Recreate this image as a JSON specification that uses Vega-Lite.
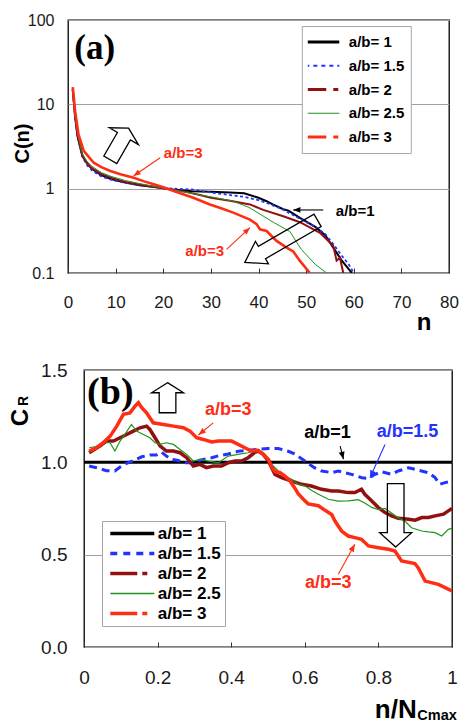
{
"$schema":"https://vega.github.io/schema/vega-lite/v6.json",
"padding":{"left":8,"top":11,"right":0,"bottom":0},
"background":"white",
"config":{"font":"Liberation Sans","view":{"stroke":"#000000","strokeWidth":1.3},
"axis":{"labelFont":"Liberation Sans","titleFont":"Liberation Sans","labelColor":"#1a1a1a","titleColor":"#000000","tickColor":"#333333"}},
"datasets":{
"a":[
{"ab":"a/b= 1","n":1,"c":15},{"ab":"a/b= 1","n":1.5,"c":7},{"ab":"a/b= 1","n":2,"c":4.2},{"ab":"a/b= 1","n":3,"c":2.45},{"ab":"a/b= 1","n":4,"c":2.0},{"ab":"a/b= 1","n":5,"c":1.72},{"ab":"a/b= 1","n":7,"c":1.45},{"ab":"a/b= 1","n":9,"c":1.3},{"ab":"a/b= 1","n":12,"c":1.18},{"ab":"a/b= 1","n":15,"c":1.1},{"ab":"a/b= 1","n":19,"c":1.03},{"ab":"a/b= 1","n":22,"c":0.98},{"ab":"a/b= 1","n":26,"c":0.93},{"ab":"a/b= 1","n":30,"c":0.92},{"ab":"a/b= 1","n":34,"c":0.9},{"ab":"a/b= 1","n":37,"c":0.88},{"ab":"a/b= 1","n":40,"c":0.78},{"ab":"a/b= 1","n":41.7,"c":0.71},{"ab":"a/b= 1","n":43,"c":0.65},{"ab":"a/b= 1","n":45.2,"c":0.57},{"ab":"a/b= 1","n":46.3,"c":0.55},{"ab":"a/b= 1","n":48.7,"c":0.45},{"ab":"a/b= 1","n":52,"c":0.35},{"ab":"a/b= 1","n":54,"c":0.28},{"ab":"a/b= 1","n":55.7,"c":0.2},{"ab":"a/b= 1","n":57.5,"c":0.14},{"ab":"a/b= 1","n":59.6,"c":0.1},
{"ab":"a/b= 1.5","n":1,"c":15},{"ab":"a/b= 1.5","n":1.5,"c":7},{"ab":"a/b= 1.5","n":2,"c":4.2},{"ab":"a/b= 1.5","n":3,"c":2.4},{"ab":"a/b= 1.5","n":4,"c":1.9},{"ab":"a/b= 1.5","n":5,"c":1.65},{"ab":"a/b= 1.5","n":7,"c":1.4},{"ab":"a/b= 1.5","n":9,"c":1.28},{"ab":"a/b= 1.5","n":12,"c":1.17},{"ab":"a/b= 1.5","n":15,"c":1.1},{"ab":"a/b= 1.5","n":19,"c":1.04},{"ab":"a/b= 1.5","n":22,"c":1.0},{"ab":"a/b= 1.5","n":26,"c":0.98},{"ab":"a/b= 1.5","n":30,"c":0.9},{"ab":"a/b= 1.5","n":34,"c":0.84},{"ab":"a/b= 1.5","n":37,"c":0.8},{"ab":"a/b= 1.5","n":40,"c":0.73},{"ab":"a/b= 1.5","n":42,"c":0.67},{"ab":"a/b= 1.5","n":45,"c":0.57},{"ab":"a/b= 1.5","n":48.7,"c":0.44},{"ab":"a/b= 1.5","n":52,"c":0.35},{"ab":"a/b= 1.5","n":54,"c":0.29},{"ab":"a/b= 1.5","n":55.7,"c":0.22},{"ab":"a/b= 1.5","n":57.5,"c":0.16},{"ab":"a/b= 1.5","n":59,"c":0.125},{"ab":"a/b= 1.5","n":60,"c":0.1},
{"ab":"a/b= 2","n":1,"c":15},{"ab":"a/b= 2","n":1.5,"c":7.5},{"ab":"a/b= 2","n":2,"c":4.4},{"ab":"a/b= 2","n":3,"c":2.5},{"ab":"a/b= 2","n":4,"c":2.0},{"ab":"a/b= 2","n":5,"c":1.75},{"ab":"a/b= 2","n":7,"c":1.5},{"ab":"a/b= 2","n":9,"c":1.35},{"ab":"a/b= 2","n":12,"c":1.2},{"ab":"a/b= 2","n":15,"c":1.12},{"ab":"a/b= 2","n":19,"c":1.03},{"ab":"a/b= 2","n":22,"c":0.97},{"ab":"a/b= 2","n":25,"c":0.91},{"ab":"a/b= 2","n":27.7,"c":0.84},{"ab":"a/b= 2","n":30,"c":0.78},{"ab":"a/b= 2","n":34,"c":0.72},{"ab":"a/b= 2","n":38.2,"c":0.65},{"ab":"a/b= 2","n":41,"c":0.56},{"ab":"a/b= 2","n":45.2,"c":0.47},{"ab":"a/b= 2","n":48.7,"c":0.4},{"ab":"a/b= 2","n":52.9,"c":0.3},{"ab":"a/b= 2","n":55.7,"c":0.21},{"ab":"a/b= 2","n":56.4,"c":0.14},{"ab":"a/b= 2","n":57.1,"c":0.152},{"ab":"a/b= 2","n":57.8,"c":0.1},
{"ab":"a/b= 2.5","n":1,"c":15},{"ab":"a/b= 2.5","n":1.5,"c":7.5},{"ab":"a/b= 2.5","n":2,"c":4.5},{"ab":"a/b= 2.5","n":3,"c":2.6},{"ab":"a/b= 2.5","n":4,"c":2.1},{"ab":"a/b= 2.5","n":5,"c":1.85},{"ab":"a/b= 2.5","n":7,"c":1.55},{"ab":"a/b= 2.5","n":9,"c":1.4},{"ab":"a/b= 2.5","n":12,"c":1.25},{"ab":"a/b= 2.5","n":15,"c":1.15},{"ab":"a/b= 2.5","n":19,"c":1.04},{"ab":"a/b= 2.5","n":22,"c":0.97},{"ab":"a/b= 2.5","n":25,"c":0.9},{"ab":"a/b= 2.5","n":27.7,"c":0.84},{"ab":"a/b= 2.5","n":30,"c":0.8},{"ab":"a/b= 2.5","n":34.7,"c":0.71},{"ab":"a/b= 2.5","n":38,"c":0.6},{"ab":"a/b= 2.5","n":40.3,"c":0.5},{"ab":"a/b= 2.5","n":43.1,"c":0.4},{"ab":"a/b= 2.5","n":46.6,"c":0.31},{"ab":"a/b= 2.5","n":49,"c":0.19},{"ab":"a/b= 2.5","n":51.9,"c":0.127},{"ab":"a/b= 2.5","n":54.3,"c":0.1},
{"ab":"a/b= 3","n":1,"c":16},{"ab":"a/b= 3","n":1.5,"c":8.3},{"ab":"a/b= 3","n":2.2,"c":4.4},{"ab":"a/b= 3","n":3.3,"c":2.8},{"ab":"a/b= 3","n":5.4,"c":2.03},{"ab":"a/b= 3","n":7,"c":1.8},{"ab":"a/b= 3","n":8.9,"c":1.62},{"ab":"a/b= 3","n":11,"c":1.48},{"ab":"a/b= 3","n":13.8,"c":1.35},{"ab":"a/b= 3","n":16,"c":1.22},{"ab":"a/b= 3","n":18,"c":1.13},{"ab":"a/b= 3","n":20,"c":1.04},{"ab":"a/b= 3","n":22.2,"c":0.94},{"ab":"a/b= 3","n":26.3,"c":0.78},{"ab":"a/b= 3","n":29.8,"c":0.65},{"ab":"a/b= 3","n":32,"c":0.59},{"ab":"a/b= 3","n":34.7,"c":0.52},{"ab":"a/b= 3","n":38.2,"c":0.43},{"ab":"a/b= 3","n":39.6,"c":0.38},{"ab":"a/b= 3","n":40.3,"c":0.33},{"ab":"a/b= 3","n":41.7,"c":0.315},{"ab":"a/b= 3","n":43.8,"c":0.24},{"ab":"a/b= 3","n":45.9,"c":0.2},{"ab":"a/b= 3","n":47.3,"c":0.18},{"ab":"a/b= 3","n":48.7,"c":0.139},{"ab":"a/b= 3","n":50.8,"c":0.1}
],
"aa":[
{"id":"A1","ab":"a/b= 3","n":19.35,"c":2.33,"n2":13.75,"c2":1.415},
{"id":"A2","ab":"a/b= 3","n":33.3,"c":0.191,"n2":38.2,"c2":0.345},
{"id":"A3","ab":"a/b= 1","n":53.6,"c":0.559,"n2":47.3,"c2":0.559}
],
"at":[
{"t":"a/b=3","ab":"a/b= 3","n":24.2,"c":2.67},
{"t":"a/b=3","ab":"a/b= 3","n":28.7,"c":0.182},
{"t":"a/b=1","ab":"a/b= 1","n":60.3,"c":0.537}
],
"ak":[{"id":"U","n":10.8,"c":3.39},{"id":"D","n":44.77,"c":0.237}],
"al":[{"t":"(a)","n":5.62,"c":46.7}],
"b":[
{"ab":"a/b= 1","x":0,"cr":1},{"ab":"a/b= 1","x":1,"cr":1},
{"ab":"a/b= 1.5","x":0.014,"cr":0.98},{"ab":"a/b= 1.5","x":0.034,"cr":0.971},{"ab":"a/b= 1.5","x":0.061,"cr":0.955},{"ab":"a/b= 1.5","x":0.084,"cr":0.953},{"ab":"a/b= 1.5","x":0.098,"cr":0.975},{"ab":"a/b= 1.5","x":0.116,"cr":0.995},{"ab":"a/b= 1.5","x":0.134,"cr":1.01},{"ab":"a/b= 1.5","x":0.157,"cr":1.03},{"ab":"a/b= 1.5","x":0.179,"cr":1.04},{"ab":"a/b= 1.5","x":0.197,"cr":1.04},{"ab":"a/b= 1.5","x":0.211,"cr":1.055},{"ab":"a/b= 1.5","x":0.224,"cr":1.034},{"ab":"a/b= 1.5","x":0.238,"cr":1.016},{"ab":"a/b= 1.5","x":0.256,"cr":1.01},{"ab":"a/b= 1.5","x":0.27,"cr":0.998},{"ab":"a/b= 1.5","x":0.288,"cr":0.998},{"ab":"a/b= 1.5","x":0.306,"cr":1.007},{"ab":"a/b= 1.5","x":0.324,"cr":1.016},{"ab":"a/b= 1.5","x":0.347,"cr":1.025},{"ab":"a/b= 1.5","x":0.365,"cr":1.035},{"ab":"a/b= 1.5","x":0.392,"cr":1.045},{"ab":"a/b= 1.5","x":0.419,"cr":1.06},{"ab":"a/b= 1.5","x":0.446,"cr":1.065},{"ab":"a/b= 1.5","x":0.474,"cr":1.07},{"ab":"a/b= 1.5","x":0.501,"cr":1.075},{"ab":"a/b= 1.5","x":0.528,"cr":1.075},{"ab":"a/b= 1.5","x":0.555,"cr":1.06},{"ab":"a/b= 1.5","x":0.573,"cr":1.045},{"ab":"a/b= 1.5","x":0.591,"cr":1.02},{"ab":"a/b= 1.5","x":0.609,"cr":0.995},{"ab":"a/b= 1.5","x":0.627,"cr":0.97},{"ab":"a/b= 1.5","x":0.646,"cr":0.953},{"ab":"a/b= 1.5","x":0.673,"cr":0.944},{"ab":"a/b= 1.5","x":0.691,"cr":0.953},{"ab":"a/b= 1.5","x":0.709,"cr":0.944},{"ab":"a/b= 1.5","x":0.727,"cr":0.935},{"ab":"a/b= 1.5","x":0.755,"cr":0.917},{"ab":"a/b= 1.5","x":0.773,"cr":0.913},{"ab":"a/b= 1.5","x":0.791,"cr":0.935},{"ab":"a/b= 1.5","x":0.809,"cr":0.949},{"ab":"a/b= 1.5","x":0.836,"cr":0.935},{"ab":"a/b= 1.5","x":0.854,"cr":0.953},{"ab":"a/b= 1.5","x":0.882,"cr":0.971},{"ab":"a/b= 1.5","x":0.909,"cr":0.957},{"ab":"a/b= 1.5","x":0.936,"cr":0.944},{"ab":"a/b= 1.5","x":0.954,"cr":0.917},{"ab":"a/b= 1.5","x":0.967,"cr":0.881},{"ab":"a/b= 1.5","x":0.981,"cr":0.89},{"ab":"a/b= 1.5","x":1,"cr":0.899},
{"ab":"a/b= 2","x":0.014,"cr":1.052},{"ab":"a/b= 2","x":0.043,"cr":1.088},{"ab":"a/b= 2","x":0.061,"cr":1.115},{"ab":"a/b= 2","x":0.08,"cr":1.115},{"ab":"a/b= 2","x":0.098,"cr":1.133},{"ab":"a/b= 2","x":0.116,"cr":1.151},{"ab":"a/b= 2","x":0.134,"cr":1.169},{"ab":"a/b= 2","x":0.152,"cr":1.187},{"ab":"a/b= 2","x":0.17,"cr":1.196},{"ab":"a/b= 2","x":0.179,"cr":1.178},{"ab":"a/b= 2","x":0.193,"cr":1.133},{"ab":"a/b= 2","x":0.207,"cr":1.088},{"ab":"a/b= 2","x":0.224,"cr":1.061},{"ab":"a/b= 2","x":0.243,"cr":1.061},{"ab":"a/b= 2","x":0.261,"cr":1.052},{"ab":"a/b= 2","x":0.279,"cr":1.025},{"ab":"a/b= 2","x":0.297,"cr":0.98},{"ab":"a/b= 2","x":0.315,"cr":0.989},{"ab":"a/b= 2","x":0.333,"cr":0.971},{"ab":"a/b= 2","x":0.351,"cr":0.98},{"ab":"a/b= 2","x":0.374,"cr":0.98},{"ab":"a/b= 2","x":0.392,"cr":0.998},{"ab":"a/b= 2","x":0.41,"cr":1.007},{"ab":"a/b= 2","x":0.428,"cr":1.007},{"ab":"a/b= 2","x":0.446,"cr":1.025},{"ab":"a/b= 2","x":0.465,"cr":1.055},{"ab":"a/b= 2","x":0.474,"cr":1.06},{"ab":"a/b= 2","x":0.487,"cr":1.043},{"ab":"a/b= 2","x":0.501,"cr":1.007},{"ab":"a/b= 2","x":0.519,"cr":0.935},{"ab":"a/b= 2","x":0.537,"cr":0.917},{"ab":"a/b= 2","x":0.564,"cr":0.899},{"ab":"a/b= 2","x":0.591,"cr":0.881},{"ab":"a/b= 2","x":0.618,"cr":0.872},{"ab":"a/b= 2","x":0.646,"cr":0.854},{"ab":"a/b= 2","x":0.673,"cr":0.845},{"ab":"a/b= 2","x":0.691,"cr":0.845},{"ab":"a/b= 2","x":0.718,"cr":0.836},{"ab":"a/b= 2","x":0.736,"cr":0.836},{"ab":"a/b= 2","x":0.754,"cr":0.854},{"ab":"a/b= 2","x":0.763,"cr":0.827},{"ab":"a/b= 2","x":0.782,"cr":0.791},{"ab":"a/b= 2","x":0.8,"cr":0.755},{"ab":"a/b= 2","x":0.818,"cr":0.728},{"ab":"a/b= 2","x":0.836,"cr":0.71},{"ab":"a/b= 2","x":0.854,"cr":0.697},{"ab":"a/b= 2","x":0.882,"cr":0.692},{"ab":"a/b= 2","x":0.9,"cr":0.687},{"ab":"a/b= 2","x":0.918,"cr":0.701},{"ab":"a/b= 2","x":0.936,"cr":0.701},{"ab":"a/b= 2","x":0.954,"cr":0.71},{"ab":"a/b= 2","x":0.977,"cr":0.719},{"ab":"a/b= 2","x":0.99,"cr":0.737},{"ab":"a/b= 2","x":1,"cr":0.751},
{"ab":"a/b= 2.5","x":0.014,"cr":1.079},{"ab":"a/b= 2.5","x":0.039,"cr":1.088},{"ab":"a/b= 2.5","x":0.052,"cr":1.106},{"ab":"a/b= 2.5","x":0.071,"cr":1.106},{"ab":"a/b= 2.5","x":0.084,"cr":1.061},{"ab":"a/b= 2.5","x":0.098,"cr":1.115},{"ab":"a/b= 2.5","x":0.111,"cr":1.151},{"ab":"a/b= 2.5","x":0.129,"cr":1.205},{"ab":"a/b= 2.5","x":0.143,"cr":1.169},{"ab":"a/b= 2.5","x":0.161,"cr":1.151},{"ab":"a/b= 2.5","x":0.179,"cr":1.133},{"ab":"a/b= 2.5","x":0.193,"cr":1.106},{"ab":"a/b= 2.5","x":0.207,"cr":1.097},{"ab":"a/b= 2.5","x":0.224,"cr":1.106},{"ab":"a/b= 2.5","x":0.243,"cr":1.097},{"ab":"a/b= 2.5","x":0.261,"cr":1.07},{"ab":"a/b= 2.5","x":0.279,"cr":1.043},{"ab":"a/b= 2.5","x":0.297,"cr":1.007},{"ab":"a/b= 2.5","x":0.315,"cr":1.016},{"ab":"a/b= 2.5","x":0.338,"cr":1.007},{"ab":"a/b= 2.5","x":0.365,"cr":0.998},{"ab":"a/b= 2.5","x":0.392,"cr":1.034},{"ab":"a/b= 2.5","x":0.419,"cr":1.043},{"ab":"a/b= 2.5","x":0.446,"cr":1.052},{"ab":"a/b= 2.5","x":0.474,"cr":1.07},{"ab":"a/b= 2.5","x":0.492,"cr":1.043},{"ab":"a/b= 2.5","x":0.51,"cr":0.989},{"ab":"a/b= 2.5","x":0.528,"cr":0.953},{"ab":"a/b= 2.5","x":0.546,"cr":0.926},{"ab":"a/b= 2.5","x":0.564,"cr":0.908},{"ab":"a/b= 2.5","x":0.582,"cr":0.881},{"ab":"a/b= 2.5","x":0.601,"cr":0.872},{"ab":"a/b= 2.5","x":0.619,"cr":0.848},{"ab":"a/b= 2.5","x":0.637,"cr":0.827},{"ab":"a/b= 2.5","x":0.664,"cr":0.8},{"ab":"a/b= 2.5","x":0.691,"cr":0.79},{"ab":"a/b= 2.5","x":0.718,"cr":0.791},{"ab":"a/b= 2.5","x":0.745,"cr":0.798},{"ab":"a/b= 2.5","x":0.763,"cr":0.78},{"ab":"a/b= 2.5","x":0.782,"cr":0.756},{"ab":"a/b= 2.5","x":0.8,"cr":0.744},{"ab":"a/b= 2.5","x":0.818,"cr":0.75},{"ab":"a/b= 2.5","x":0.836,"cr":0.726},{"ab":"a/b= 2.5","x":0.854,"cr":0.699},{"ab":"a/b= 2.5","x":0.872,"cr":0.682},{"ab":"a/b= 2.5","x":0.89,"cr":0.646},{"ab":"a/b= 2.5","x":0.918,"cr":0.628},{"ab":"a/b= 2.5","x":0.936,"cr":0.623},{"ab":"a/b= 2.5","x":0.954,"cr":0.619},{"ab":"a/b= 2.5","x":0.972,"cr":0.601},{"ab":"a/b= 2.5","x":0.99,"cr":0.637},{"ab":"a/b= 2.5","x":1,"cr":0.642},
{"ab":"a/b= 3","x":0.014,"cr":1.061},{"ab":"a/b= 3","x":0.034,"cr":1.079},{"ab":"a/b= 3","x":0.052,"cr":1.106},{"ab":"a/b= 3","x":0.071,"cr":1.142},{"ab":"a/b= 3","x":0.089,"cr":1.196},{"ab":"a/b= 3","x":0.107,"cr":1.26},{"ab":"a/b= 3","x":0.125,"cr":1.268},{"ab":"a/b= 3","x":0.139,"cr":1.305},{"ab":"a/b= 3","x":0.148,"cr":1.323},{"ab":"a/b= 3","x":0.157,"cr":1.296},{"ab":"a/b= 3","x":0.17,"cr":1.268},{"ab":"a/b= 3","x":0.188,"cr":1.214},{"ab":"a/b= 3","x":0.216,"cr":1.205},{"ab":"a/b= 3","x":0.243,"cr":1.196},{"ab":"a/b= 3","x":0.27,"cr":1.187},{"ab":"a/b= 3","x":0.288,"cr":1.169},{"ab":"a/b= 3","x":0.306,"cr":1.133},{"ab":"a/b= 3","x":0.324,"cr":1.124},{"ab":"a/b= 3","x":0.347,"cr":1.11},{"ab":"a/b= 3","x":0.365,"cr":1.115},{"ab":"a/b= 3","x":0.401,"cr":1.115},{"ab":"a/b= 3","x":0.419,"cr":1.097},{"ab":"a/b= 3","x":0.437,"cr":1.079},{"ab":"a/b= 3","x":0.455,"cr":1.061},{"ab":"a/b= 3","x":0.473,"cr":1.065},{"ab":"a/b= 3","x":0.487,"cr":1.043},{"ab":"a/b= 3","x":0.501,"cr":1.016},{"ab":"a/b= 3","x":0.51,"cr":0.975},{"ab":"a/b= 3","x":0.519,"cr":0.95},{"ab":"a/b= 3","x":0.533,"cr":0.944},{"ab":"a/b= 3","x":0.546,"cr":0.926},{"ab":"a/b= 3","x":0.56,"cr":0.899},{"ab":"a/b= 3","x":0.573,"cr":0.86},{"ab":"a/b= 3","x":0.582,"cr":0.83},{"ab":"a/b= 3","x":0.596,"cr":0.8},{"ab":"a/b= 3","x":0.609,"cr":0.775},{"ab":"a/b= 3","x":0.637,"cr":0.765},{"ab":"a/b= 3","x":0.655,"cr":0.74},{"ab":"a/b= 3","x":0.673,"cr":0.718},{"ab":"a/b= 3","x":0.682,"cr":0.682},{"ab":"a/b= 3","x":0.7,"cr":0.628},{"ab":"a/b= 3","x":0.718,"cr":0.601},{"ab":"a/b= 3","x":0.736,"cr":0.592},{"ab":"a/b= 3","x":0.754,"cr":0.583},{"ab":"a/b= 3","x":0.773,"cr":0.547},{"ab":"a/b= 3","x":0.8,"cr":0.538},{"ab":"a/b= 3","x":0.827,"cr":0.529},{"ab":"a/b= 3","x":0.845,"cr":0.52},{"ab":"a/b= 3","x":0.863,"cr":0.466},{"ab":"a/b= 3","x":0.899,"cr":0.452},{"ab":"a/b= 3","x":0.908,"cr":0.429},{"ab":"a/b= 3","x":0.927,"cr":0.357},{"ab":"a/b= 3","x":0.963,"cr":0.339},{"ab":"a/b= 3","x":1,"cr":0.303}
],
"ba":[
{"id":"B1","ab":"a/b= 3","x":0.351,"cr":1.214,"x2":0.311,"cr2":1.148},
{"id":"B2","ab":"a/b= 1","x":0.696,"cr":1.088,"x2":0.705,"cr2":1.017},
{"id":"B3","ab":"a/b= 1.5","x":0.818,"cr":1.097,"x2":0.777,"cr2":0.917},
{"id":"B4","ab":"a/b= 3","x":0.691,"cr":0.394,"x2":0.736,"cr2":0.556}
],
"bt":[
{"t":"a/b=3","ab":"a/b= 3","x":0.392,"cr":1.282},
{"t":"a/b=1","ab":"a/b= 1","x":0.662,"cr":1.16},
{"t":"a/b=1.5","ab":"a/b= 1.5","x":0.879,"cr":1.165},
{"t":"a/b=3","ab":"a/b= 3","x":0.664,"cr":0.344}
],
"bk":[{"id":"U","x":0.227,"cr":1.35},{"id":"D","x":0.847,"cr":0.713}],
"bl":[{"t":"(b)","x":0.0715,"cr":1.378}],
"bx":[{"k":"R","t":"R","x":-0.1514,"cr":1.332},{"k":"C","t":"Cmax","x":0.9057,"cr":-0.395}]
},
"vconcat":[
{
"width":381,"height":253,
"layer":[
{"data":{"name":"a"},"transform":[{"filter":"datum.ab === 'a/b= 1'"}],"mark":{"type":"line","clip":true,"strokeWidth":2},
"encoding":{
"x":{"field":"n","type":"quantitative","scale":{"domain":[0,80],"nice":false,"zero":false},
"axis":{"values":[0,5,10,15,20,25,30,35,40,45,50,55,60,65,70,75,80],"labelExpr":"datum.value % 10 === 0 ? datum.label : ''","title":"n","titleX":355.6,"titleY":56.3,"titleAlign":"center","titleBaseline":"alphabetic","titleFontSize":24,"titleFontWeight":"bold","grid":false,"domain":false,"tickSize":-5,"labelPadding":26,"labelFontSize":17,"labelFlush":false,"labelOverlap":false}},
"y":{"field":"c","type":"quantitative","scale":{"type":"log","domain":[0.1,100],"nice":false},
"axis":{"values":[0.1,1,10,100],"format":"~g","grid":true,"gridColor":"#a0a0a0","gridWidth":1,"ticks":false,"domain":false,"labelPadding":14,"labelFontSize":16,"title":"C(n)","titleX":-39.7,"titleY":123,"titleAngle":270,"titleAlign":"center","titleBaseline":"alphabetic","titleFontSize":20,"titleFontWeight":"bold"}},
"color":{"field":"ab","type":"nominal","scale":{"domain":["a/b= 1","a/b= 1.5","a/b= 2","a/b= 2.5","a/b= 3"],"range":["#000000","#2233ff","#931010","#1e961e","#ff2d14"]},
"legend":{"title":null,"orient":"none","legendX":233.8,"legendY":6,"direction":"vertical","padding":6,"fillColor":"#ffffff","strokeColor":"#a6a6a6","symbolType":"stroke","symbolSize":1156,"clipHeight":20,"rowPadding":3.75,"symbolOffset":7,"labelOffset":19,"labelFont":"Liberation Sans","labelFontSize":15,"labelFontWeight":"bold","labelColor":"#000000","labelLimit":200,
"encode":{"symbols":{"update":{"strokeDash":{"signal":"(datum.value === 'a/b= 2' || datum.value === 'a/b= 3') ? [21,7,5,40] : (datum.value === 'a/b= 1.5' ? [4,4] : [1,0])"},"strokeWidth":{"signal":"datum.value === 'a/b= 2.5' ? 1.2 : (datum.value === 'a/b= 1.5' ? 2 : 3)"}}}}}}
}},
{"data":{"name":"a"},"transform":[{"filter":"datum.ab === 'a/b= 1.5'"}],"mark":{"type":"line","clip":true,"strokeWidth":1.8,"strokeDash":[3,2.5]},
"encoding":{"x":{"field":"n","type":"quantitative"},"y":{"field":"c","type":"quantitative"},"color":{"field":"ab","type":"nominal"}}},
{"data":{"name":"a"},"transform":[{"filter":"datum.ab === 'a/b= 2'"}],"mark":{"type":"line","clip":true,"strokeWidth":2},
"encoding":{"x":{"field":"n","type":"quantitative"},"y":{"field":"c","type":"quantitative"},"color":{"field":"ab","type":"nominal"}}},
{"data":{"name":"a"},"transform":[{"filter":"datum.ab === 'a/b= 2.5'"}],"mark":{"type":"line","clip":true,"strokeWidth":1},
"encoding":{"x":{"field":"n","type":"quantitative"},"y":{"field":"c","type":"quantitative"},"color":{"field":"ab","type":"nominal"}}},
{"data":{"name":"a"},"transform":[{"filter":"datum.ab === 'a/b= 3'"}],"mark":{"type":"line","clip":true,"strokeWidth":2.6},
"encoding":{"x":{"field":"n","type":"quantitative"},"y":{"field":"c","type":"quantitative"},"color":{"field":"ab","type":"nominal"}}},
{"data":{"name":"ak"},"transform":[{"filter":"datum.id === 'U'"}],"mark":{"type":"point","shape":"M0,-1L0.92,-0.49L0.41,-0.49L0.41,1L-0.41,1L-0.41,-0.49L-0.92,-0.49Z","size":1332,"angle":30,"filled":false,"stroke":"#000000","strokeWidth":1.3,"opacity":1},
"encoding":{"x":{"field":"n","type":"quantitative"},"y":{"field":"c","type":"quantitative"}}},
{"data":{"name":"ak"},"transform":[{"filter":"datum.id === 'D'"}],"mark":{"type":"point","shape":"M0,-1L0.31,-0.53L0.17,-0.53L0.17,1L-0.17,1L-0.17,-0.53L-0.31,-0.53Z","size":7056,"angle":240,"filled":false,"stroke":"#000000","strokeWidth":1.3,"opacity":1},
"encoding":{"x":{"field":"n","type":"quantitative"},"y":{"field":"c","type":"quantitative"}}},
{"data":{"name":"aa"},"mark":{"type":"rule","strokeWidth":1.1},
"encoding":{"x":{"field":"n","type":"quantitative"},"y":{"field":"c","type":"quantitative"},"x2":{"field":"n2"},"y2":{"field":"c2"},
"stroke":{"field":"ab","type":"nominal","scale":{"domain":["a/b= 1","a/b= 1.5","a/b= 3"],"range":["#000000","#2233ff","#ff2d14"]},"legend":null}}},
{"data":{"name":"aa"},"transform":[{"filter":"datum.id === 'A1'"}],"mark":{"type":"point","shape":"M0,0L0.5,1.25L-0.5,1.25Z","size":130,"angle":235.6,"filled":true,"opacity":1},
"encoding":{"x":{"field":"n2","type":"quantitative"},"y":{"field":"c2","type":"quantitative"},"fill":{"field":"ab","type":"nominal","scale":{"domain":["a/b= 1","a/b= 1.5","a/b= 3"],"range":["#000000","#2233ff","#ff2d14"]},"legend":null}}},
{"data":{"name":"aa"},"transform":[{"filter":"datum.id === 'A2'"}],"mark":{"type":"point","shape":"M0,0L0.5,1.25L-0.5,1.25Z","size":130,"angle":47.2,"filled":true,"opacity":1},
"encoding":{"x":{"field":"n2","type":"quantitative"},"y":{"field":"c2","type":"quantitative"},"fill":{"field":"ab","type":"nominal","legend":null}}},
{"data":{"name":"aa"},"transform":[{"filter":"datum.id === 'A3'"}],"mark":{"type":"point","shape":"M0,0L0.5,1.25L-0.5,1.25Z","size":130,"angle":270,"filled":true,"opacity":1},
"encoding":{"x":{"field":"n2","type":"quantitative"},"y":{"field":"c2","type":"quantitative"},"fill":{"field":"ab","type":"nominal","legend":null}}},
{"data":{"name":"at"},"mark":{"type":"text","font":"Liberation Sans","fontWeight":"bold","fontSize":15,"align":"center","baseline":"middle"},
"encoding":{"x":{"field":"n","type":"quantitative"},"y":{"field":"c","type":"quantitative"},"text":{"field":"t"},"fill":{"field":"ab","type":"nominal","legend":null}}},
{"data":{"name":"al"},"mark":{"type":"text","font":"Liberation Serif","fontWeight":"bold","fontSize":35,"align":"center","baseline":"middle","color":"#000000"},
"encoding":{"x":{"field":"n","type":"quantitative"},"y":{"field":"c","type":"quantitative"},"text":{"field":"t"}}}
]
},
{
"hconcat":[
{"width":1,"height":1,"data":{"values":[]},"mark":{"type":"point","opacity":0},"view":{"stroke":null}},
{
"width":368,"height":277,
"layer":[
{"data":{"name":"b"},"transform":[{"filter":"datum.ab === 'a/b= 1'"}],"mark":{"type":"line","clip":true,"strokeWidth":3},
"encoding":{
"x":{"field":"x","type":"quantitative","scale":{"domain":[0,1],"nice":false,"zero":false},
"axis":{"values":[0,0.1,0.2,0.3,0.4,0.5,0.6,0.7,0.8,0.9,1],"labelExpr":"(round(datum.value*10) % 2 === 0) ? format(datum.value, '~g') : ''","title":"n/N","titleX":290.3,"titleY":70,"titleAlign":"left","titleBaseline":"alphabetic","titleFontSize":26,"titleFontWeight":"bold","grid":false,"domain":false,"tickSize":-5,"labelPadding":26,"labelFontSize":19,"labelFlush":false,"labelOverlap":false}},
"y":{"field":"cr","type":"quantitative","scale":{"domain":[0,1.5],"nice":false,"zero":false},
"axis":{"values":[0,0.5,1,1.5],"format":".1f","grid":true,"gridColor":"#a0a0a0","gridWidth":1,"ticks":false,"domain":false,"labelPadding":17,"labelFontSize":19,"title":"C","titleX":-56.2,"titleY":47,"titleAngle":270,"titleAlign":"center","titleBaseline":"alphabetic","titleFontSize":24,"titleFontWeight":"bold"}},
"color":{"field":"ab","type":"nominal","scale":{"domain":["a/b= 1","a/b= 1.5","a/b= 2","a/b= 2.5","a/b= 3"],"range":["#000000","#2233ff","#931010","#1e961e","#ff2d14"]},
"legend":{"title":null,"orient":"none","legendX":34,"legendY":151,"direction":"vertical","padding":4,"fillColor":"#ffffff","strokeColor":"#a6a6a6","symbolType":"stroke","symbolSize":1936,"clipHeight":17,"rowPadding":2,"symbolOffset":17.8,"labelOffset":17,"labelFont":"Liberation Sans","labelFontSize":17,"labelFontWeight":"bold","labelColor":"#000000","labelLimit":200,
"encode":{"symbols":{"update":{"strokeDash":{"signal":"(datum.value === 'a/b= 2' || datum.value === 'a/b= 3') ? [27,5,5,60] : (datum.value === 'a/b= 1.5' ? [7,6] : [1,0])"},"strokeWidth":{"signal":"datum.value === 'a/b= 2.5' ? 1.3 : 3.5"}}}}}}
}},
{"data":{"name":"b"},"transform":[{"filter":"datum.ab === 'a/b= 1.5'"}],"mark":{"type":"line","clip":true,"strokeWidth":3,"strokeDash":[8,5]},
"encoding":{"x":{"field":"x","type":"quantitative"},"y":{"field":"cr","type":"quantitative"},"color":{"field":"ab","type":"nominal"}}},
{"data":{"name":"b"},"transform":[{"filter":"datum.ab === 'a/b= 2'"}],"mark":{"type":"line","clip":true,"strokeWidth":3.5},
"encoding":{"x":{"field":"x","type":"quantitative"},"y":{"field":"cr","type":"quantitative"},"color":{"field":"ab","type":"nominal"}}},
{"data":{"name":"b"},"transform":[{"filter":"datum.ab === 'a/b= 2.5'"}],"mark":{"type":"line","clip":true,"strokeWidth":1.2},
"encoding":{"x":{"field":"x","type":"quantitative"},"y":{"field":"cr","type":"quantitative"},"color":{"field":"ab","type":"nominal"}}},
{"data":{"name":"b"},"transform":[{"filter":"datum.ab === 'a/b= 3'"}],"mark":{"type":"line","clip":true,"strokeWidth":3.5},
"encoding":{"x":{"field":"x","type":"quantitative"},"y":{"field":"cr","type":"quantitative"},"color":{"field":"ab","type":"nominal"}}},
{"data":{"name":"bk"},"transform":[{"filter":"datum.id === 'U'"}],"mark":{"type":"point","shape":"M0,-0.94L1,-0.31L0.52,-0.31L0.52,0.94L-0.52,0.94L-0.52,-0.31L-1,-0.31Z","size":1024,"filled":false,"stroke":"#000000","strokeWidth":1.3,"opacity":1},
"encoding":{"x":{"field":"x","type":"quantitative"},"y":{"field":"cr","type":"quantitative"}}},
{"data":{"name":"bk"},"transform":[{"filter":"datum.id === 'D'"}],"mark":{"type":"point","shape":"M0,0.99L0.5,0.54L0.26,0.54L0.26,-0.99L-0.26,-0.99L-0.26,0.54L-0.5,0.54Z","size":4096,"filled":false,"stroke":"#000000","strokeWidth":1.3,"opacity":1},
"encoding":{"x":{"field":"x","type":"quantitative"},"y":{"field":"cr","type":"quantitative"}}},
{"data":{"name":"ba"},"mark":{"type":"rule","strokeWidth":1.1},
"encoding":{"x":{"field":"x","type":"quantitative"},"y":{"field":"cr","type":"quantitative"},"x2":{"field":"x2"},"y2":{"field":"cr2"},
"stroke":{"field":"ab","type":"nominal","scale":{"domain":["a/b= 1","a/b= 1.5","a/b= 3"],"range":["#000000","#2233ff","#ff2d14"]},"legend":null}}},
{"data":{"name":"ba"},"transform":[{"filter":"datum.id === 'B1'"}],"mark":{"type":"point","shape":"M0,0L0.5,1.25L-0.5,1.25Z","size":140,"angle":230.6,"filled":true,"opacity":1},
"encoding":{"x":{"field":"x2","type":"quantitative"},"y":{"field":"cr2","type":"quantitative"},"fill":{"field":"ab","type":"nominal","scale":{"domain":["a/b= 1","a/b= 1.5","a/b= 3"],"range":["#000000","#2233ff","#ff2d14"]},"legend":null}}},
{"data":{"name":"ba"},"transform":[{"filter":"datum.id === 'B2'"}],"mark":{"type":"point","shape":"M0,0L0.5,1.25L-0.5,1.25Z","size":140,"angle":166.1,"filled":true,"opacity":1},
"encoding":{"x":{"field":"x2","type":"quantitative"},"y":{"field":"cr2","type":"quantitative"},"fill":{"field":"ab","type":"nominal","legend":null}}},
{"data":{"name":"ba"},"transform":[{"filter":"datum.id === 'B3'"}],"mark":{"type":"point","shape":"M0,0L0.5,1.25L-0.5,1.25Z","size":140,"angle":204.2,"filled":true,"opacity":1},
"encoding":{"x":{"field":"x2","type":"quantitative"},"y":{"field":"cr2","type":"quantitative"},"fill":{"field":"ab","type":"nominal","legend":null}}},
{"data":{"name":"ba"},"transform":[{"filter":"datum.id === 'B4'"}],"mark":{"type":"point","shape":"M0,0L0.5,1.25L-0.5,1.25Z","size":140,"angle":29.1,"filled":true,"opacity":1},
"encoding":{"x":{"field":"x2","type":"quantitative"},"y":{"field":"cr2","type":"quantitative"},"fill":{"field":"ab","type":"nominal","legend":null}}},
{"data":{"name":"bt"},"mark":{"type":"text","font":"Liberation Sans","fontWeight":"bold","fontSize":18,"align":"center","baseline":"middle"},
"encoding":{"x":{"field":"x","type":"quantitative"},"y":{"field":"cr","type":"quantitative"},"text":{"field":"t"},"fill":{"field":"ab","type":"nominal","legend":null}}},
{"data":{"name":"bl"},"mark":{"type":"text","font":"Liberation Serif","fontWeight":"bold","fontSize":38,"align":"center","baseline":"middle","color":"#000000"},
"encoding":{"x":{"field":"x","type":"quantitative"},"y":{"field":"cr","type":"quantitative"},"text":{"field":"t"}}},
{"data":{"name":"bx"},"transform":[{"filter":"datum.k === 'R'"}],"mark":{"type":"text","font":"Liberation Sans","fontWeight":"bold","fontSize":14,"align":"center","baseline":"alphabetic","angle":270,"color":"#000000"},
"encoding":{"x":{"field":"x","type":"quantitative"},"y":{"field":"cr","type":"quantitative"},"text":{"field":"t"}}},
{"data":{"name":"bx"},"transform":[{"filter":"datum.k === 'C'"}],"mark":{"type":"text","font":"Liberation Sans","fontWeight":"bold","fontSize":14.5,"align":"left","baseline":"alphabetic","color":"#000000"},
"encoding":{"x":{"field":"x","type":"quantitative"},"y":{"field":"cr","type":"quantitative"},"text":{"field":"t"}}}
]
}
],
"spacing":-61
}
],
"spacing":25,
"resolve":{"scale":{"x":"independent","y":"independent","color":"independent","fill":"independent","stroke":"independent"},"legend":{"color":"independent"},"axis":{"x":"independent","y":"independent"}}
}
